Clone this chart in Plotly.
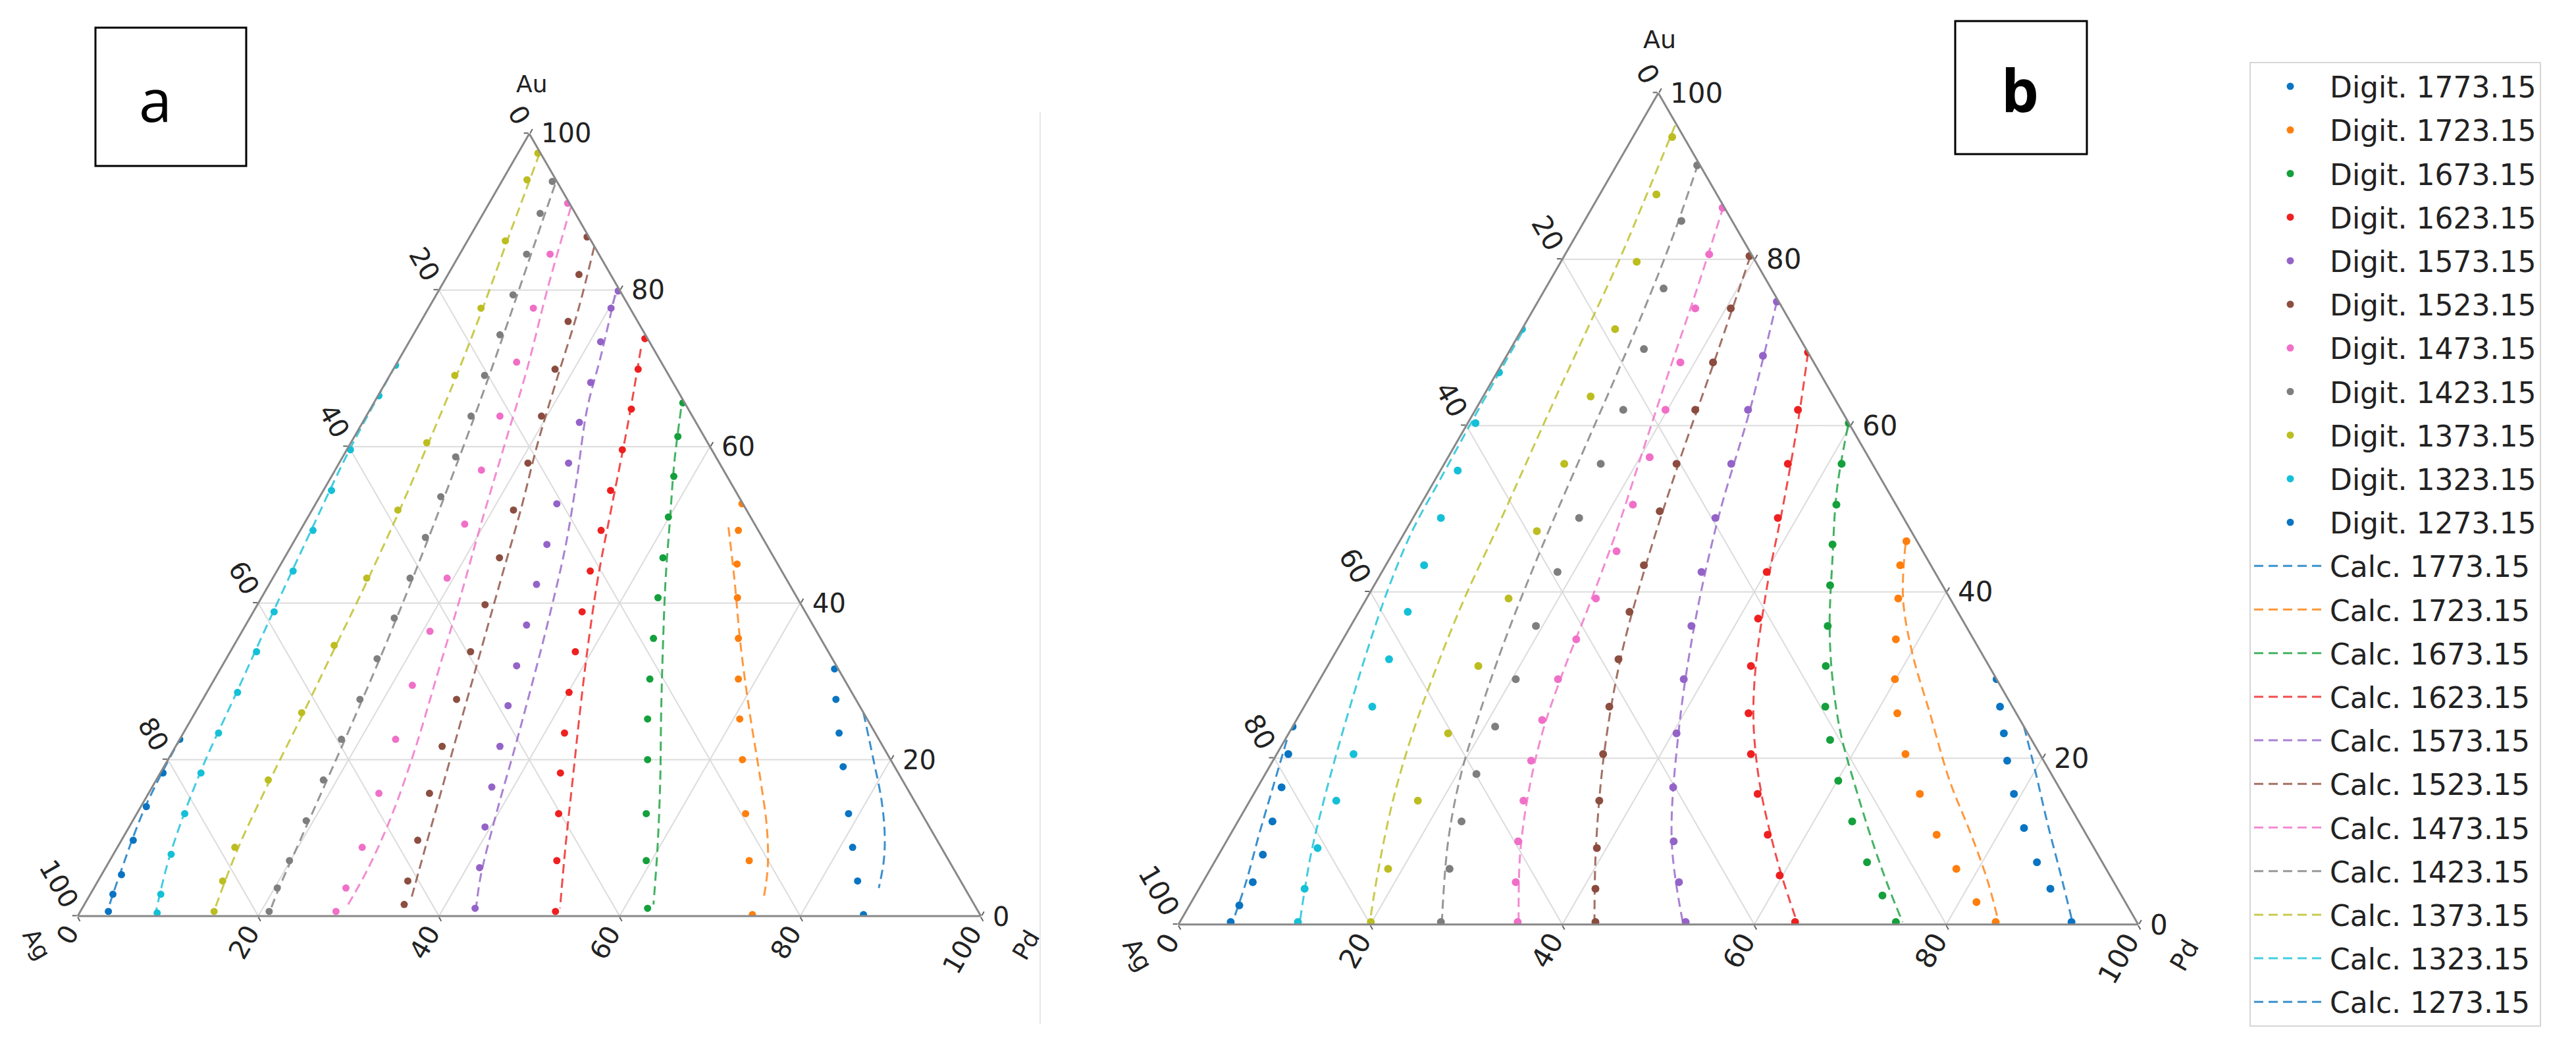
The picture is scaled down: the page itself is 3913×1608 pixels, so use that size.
import plotly.graph_objects as go

W, H = 3913, 1608

TEMPS = ["1773.15", "1723.15", "1673.15", "1623.15", "1573.15", "1523.15",
         "1473.15", "1423.15", "1373.15", "1323.15", "1273.15"]
COLORS = ["#0a75c2", "#ff7f0e", "#14a03c", "#ee2020", "#9463c8", "#8c4e40",
          "#f070c8", "#7f7f7f", "#bcbd22", "#14c0d8", "#0a75c2"]
TICKVALS = [0, 20, 40, 60, 80, 100]

a_dig_au = {
    "1773.15": [31.6, 27.7, 23.4, 19.1, 13.1, 8.8, 4.5, 0.2],
    "1723.15": [52.7, 49.3, 45.0, 40.7, 35.5, 30.3, 25.2, 20.0, 13.1, 7.1, 0.2],
    "1673.15": [65.6, 61.3, 56.2, 51.0, 45.8, 40.7, 35.5, 30.3, 25.2, 20.0, 13.1, 7.1, 1.0],
    "1623.15": [73.8, 69.9, 64.8, 59.6, 54.4, 49.3, 44.1, 38.9, 33.8, 28.6, 23.4, 18.3, 13.1, 7.1, 0.6],
    "1573.15": [79.9, 77.7, 73.4, 68.2, 63.1, 57.9, 52.7, 47.5, 42.4, 37.2, 32.0, 26.9, 21.7, 16.5, 11.4, 6.2, 1.0],
    "1523.15": [86.8, 82.0, 76.0, 69.9, 63.9, 57.9, 51.9, 45.8, 39.8, 33.8, 27.7, 21.7, 15.7, 9.7, 4.5, 1.5],
    "1473.15": [91.1, 84.6, 77.7, 70.8, 63.9, 57.0, 50.1, 43.2, 36.4, 29.5, 22.6, 15.7, 8.8, 3.6, 0.6],
    "1423.15": [93.9, 89.8, 84.6, 79.4, 74.3, 69.1, 63.9, 58.7, 53.6, 48.4, 43.2, 38.1, 32.9, 27.7, 22.6, 17.4, 12.2, 7.1, 3.6, 0.6],
    "1373.15": [97.5, 94.1, 86.3, 77.7, 69.1, 60.5, 51.9, 43.2, 34.6, 26.0, 17.4, 8.8, 4.5, 0.6],
    "1323.15": [70.4, 66.5, 59.6, 54.4, 49.3, 44.1, 38.9, 33.8, 28.6, 23.4, 18.3, 13.1, 7.9, 2.8, 0.4],
    "1273.15": [22.6, 18.3, 14.0, 9.7, 5.3, 2.8, 0.6],
}
a_dig_pd = {
    "1773.15": [68.0, 70.1, 72.6, 75.2, 78.8, 81.4, 84.1, 86.9],
    "1723.15": [47.2, 48.5, 50.5, 52.7, 55.4, 58.0, 60.7, 63.6, 67.4, 70.8, 74.6],
    "1673.15": [34.2, 35.8, 37.9, 39.9, 41.9, 43.9, 46.0, 48.2, 50.5, 53.1, 56.4, 59.4, 62.6],
    "1623.15": [25.9, 27.1, 28.9, 30.5, 31.8, 33.3, 34.7, 36.4, 38.2, 40.1, 42.2, 44.3, 46.7, 49.5, 52.6],
    "1573.15": [19.9, 20.2, 21.2, 22.7, 24.0, 25.4, 26.7, 28.2, 29.6, 31.1, 32.6, 34.2, 35.9, 37.6, 39.4, 41.4, 43.5],
    "1523.15": [13.0, 14.5, 16.3, 17.9, 19.4, 20.9, 22.3, 23.8, 25.2, 26.6, 28.1, 29.5, 31.1, 32.8, 34.3, 35.4],
    "1473.15": [8.7, 10.0, 11.6, 13.2, 14.8, 16.2, 17.8, 19.3, 20.8, 22.3, 23.9, 25.5, 27.1, 27.9, 28.3],
    "1423.15": [5.6, 6.3, 7.4, 8.5, 9.6, 10.5, 11.6, 12.5, 13.4, 14.3, 15.2, 16.0, 16.7, 17.4, 17.9, 18.5, 19.2, 19.9, 20.3, 20.9],
    "1373.15": [2.2, 2.7, 4.2, 5.8, 7.2, 8.4, 9.5, 10.4, 11.1, 11.8, 12.4, 13.0, 13.8, 14.8],
    "1323.15": [0.0, 0.1, 0.4, 0.9, 1.4, 1.8, 2.3, 2.9, 3.4, 3.9, 4.5, 5.3, 6.4, 7.8, 8.6],
    "1273.15": [0.0, 0.3, 0.6, 1.3, 2.2, 2.5, 3.1],
}

# ---- panel a, calculated liquidus ----
a_calc_au = {
    "1773.15": [26.0, 20.0, 14.8, 10.5, 7.1, 3.6],
    "1723.15": [49.7, 43.2, 34.6, 26.0, 17.4, 11.4, 6.2, 2.3],
    "1673.15": [64.8, 57.9, 51.0, 43.2, 34.6, 26.0, 17.4, 8.8, 1.5],
    "1623.15": [72.5, 63.1, 51.9, 43.2, 34.6, 26.0, 17.4, 8.8, 1.0],
    "1573.15": [79.4, 71.7, 64.8, 56.2, 47.5, 38.9, 30.3, 21.7, 13.1, 5.3, 1.0],
    "1523.15": [85.6, 77.4, 68.8, 60.5, 51.9, 43.2, 34.6, 26.0, 17.4, 8.8, 1.9],
    "1473.15": [90.6, 80.3, 69.9, 59.6, 50.1, 40.7, 31.2, 21.7, 13.1, 6.2, 1.5],
    "1423.15": [93.5, 84.6, 74.3, 63.9, 53.6, 43.2, 32.9, 22.6, 12.2, 3.6, 0.5],
    "1373.15": [97.5, 86.3, 77.7, 69.1, 60.5, 51.9, 43.2, 34.6, 26.0, 17.4, 8.8, 0.5],
    "1323.15": [70.4, 59.6, 49.3, 38.9, 28.6, 18.3, 7.9, 0.5],
    "1273.15": [23.0, 14.0, 5.3, 0.5],
}
a_calc_pd = {
    "1773.15": [74.0, 78.1, 81.6, 84.1, 85.7, 86.9],
    "1723.15": [47.2, 51.1, 56.1, 61.4, 66.9, 70.6, 73.3, 74.8],
    "1673.15": [34.4, 37.1, 40.1, 43.5, 47.5, 51.6, 55.8, 59.8, 63.0],
    "1623.15": [26.1, 29.4, 33.1, 36.0, 39.2, 42.6, 46.1, 49.6, 52.9],
    "1573.15": [19.8, 22.1, 24.0, 27.2, 30.3, 32.9, 35.3, 37.6, 39.8, 42.0, 43.6],
    "1523.15": [14.4, 16.7, 18.7, 20.7, 23.1, 25.3, 27.5, 29.7, 31.9, 34.1, 35.9],
    "1473.15": [9.3, 11.9, 14.8, 17.3, 19.6, 22.0, 24.3, 26.6, 28.3, 29.1, 29.2],
    "1423.15": [6.1, 7.9, 10.0, 12.0, 13.8, 15.5, 17.0, 18.3, 19.5, 20.5, 21.0],
    "1373.15": [2.4, 4.4, 6.0, 7.4, 8.6, 9.7, 10.6, 11.3, 12.0, 12.6, 13.4, 14.8],
    "1323.15": [0.0, 0.3, 1.2, 2.2, 3.3, 4.4, 6.3, 8.4],
    "1273.15": [0.0, 0.5, 2.0, 3.0],
}

b_dig_au = {
    "1773.15": [29.5, 26.2, 23.0, 19.7, 15.7, 11.6, 7.5, 4.3, 0.3],
    "1723.15": [46.1, 43.2, 39.2, 34.3, 29.5, 25.4, 20.5, 15.7, 10.8, 6.7, 2.7, 0.3],
    "1673.15": [60.3, 55.4, 50.5, 45.7, 40.8, 35.9, 31.1, 26.2, 22.2, 17.3, 12.4, 7.5, 3.5, 0.3],
    "1623.15": [68.8, 61.9, 55.4, 48.9, 42.4, 36.8, 31.1, 25.4, 20.5, 15.7, 10.8, 5.9, 0.3],
    "1573.15": [74.9, 68.4, 61.9, 55.4, 48.9, 42.4, 35.9, 29.5, 23.0, 16.5, 10.0, 5.1, 0.3],
    "1523.15": [80.4, 74.1, 67.6, 61.9, 55.4, 49.7, 43.2, 37.6, 31.9, 26.2, 20.5, 14.9, 9.2, 4.3, 0.3],
    "1473.15": [86.2, 80.6, 74.1, 67.6, 61.9, 56.2, 50.5, 44.9, 39.2, 34.3, 29.5, 24.6, 19.7, 14.9, 10.0, 5.1, 0.3],
    "1423.15": [91.3, 84.6, 76.5, 69.2, 61.9, 55.4, 48.9, 42.4, 35.9, 29.5, 23.8, 18.1, 12.4, 6.7, 0.3],
    "1373.15": [94.7, 87.8, 79.7, 71.6, 63.5, 55.4, 47.3, 39.2, 31.1, 23.0, 14.9, 6.7, 0.3],
    "1323.15": [71.6, 66.4, 60.3, 54.6, 48.9, 43.2, 37.6, 31.9, 26.2, 20.5, 14.9, 9.2, 4.3, 0.3],
    "1273.15": [23.8, 20.5, 16.5, 12.4, 8.4, 5.1, 2.3, 0.3],
}
b_dig_pd = {
    "1773.15": [70.5, 72.5, 74.5, 76.5, 79.2, 82.3, 85.7, 88.7, 92.9],
    "1723.15": [52.8, 53.6, 55.4, 57.6, 59.9, 62.2, 65.5, 69.4, 73.6, 77.7, 81.8, 85.0],
    "1673.15": [39.7, 41.4, 43.3, 45.3, 47.5, 49.7, 51.9, 54.3, 56.8, 60.1, 64.0, 68.0, 71.6, 74.6],
    "1623.15": [31.2, 33.6, 35.8, 38.0, 40.1, 42.0, 44.1, 46.7, 49.4, 52.5, 56.0, 59.7, 64.1],
    "1573.15": [24.9, 26.7, 28.4, 29.9, 31.5, 33.3, 35.5, 37.9, 40.4, 43.3, 46.6, 49.6, 52.7],
    "1523.15": [19.3, 20.5, 21.9, 22.9, 24.2, 25.3, 26.9, 28.2, 29.9, 31.8, 34.0, 36.4, 39.0, 41.3, 43.3],
    "1473.15": [13.6, 15.0, 16.8, 18.5, 19.8, 21.0, 22.1, 23.2, 23.9, 24.3, 24.8, 25.6, 26.9, 28.5, 30.4, 32.6, 35.2],
    "1423.15": [8.4, 10.1, 12.3, 13.9, 15.4, 16.3, 17.3, 18.3, 19.3, 20.4, 21.1, 22.0, 23.3, 24.9, 27.2],
    "1373.15": [4.1, 5.9, 7.9, 9.7, 11.2, 12.5, 13.7, 14.8, 15.7, 16.6, 17.5, 18.5, 19.9],
    "1323.15": [0.0, 0.2, 0.8, 1.8, 2.9, 4.0, 5.1, 6.0, 7.1, 8.0, 9.0, 9.9, 11.0, 12.3],
    "1273.15": [0.0, 1.2, 2.5, 3.6, 4.6, 5.2, 5.2, 5.3],
}

# ---- panel b, calculated liquidus ----
b_calc_au = {
    "1773.15": [23.8, 18.1, 12.4, 5.9, 0.3],
    "1723.15": [45.7, 39.2, 32.7, 25.4, 17.3, 10.8, 5.1, 0.3],
    "1673.15": [59.9, 52.2, 44.1, 35.9, 29.5, 23.0, 16.5, 10.0, 4.3, 0.3],
    "1623.15": [68.8, 61.9, 55.4, 48.9, 42.4, 36.8, 31.1, 25.4, 20.5, 15.7, 10.8, 5.9, 0.3],
    "1573.15": [74.9, 61.9, 48.9, 35.9, 23.0, 10.0, 0.3],
    "1523.15": [80.4, 67.6, 55.4, 43.2, 31.9, 20.5, 9.2, 0.3],
    "1473.15": [86.4, 76.5, 66.8, 57.0, 47.3, 38.4, 30.3, 23.0, 15.7, 8.4, 0.3],
    "1423.15": [91.5, 83.0, 74.9, 66.8, 58.7, 50.5, 42.4, 34.3, 26.2, 18.1, 10.0, 0.3],
    "1373.15": [96.1, 87.8, 79.7, 71.6, 63.5, 55.4, 47.3, 39.2, 31.1, 23.0, 14.9, 6.7, 0.3],
    "1323.15": [71.2, 61.9, 53.8, 47.3, 40.8, 34.3, 27.8, 21.3, 14.9, 8.4, 0.3],
    "1273.15": [22.2, 16.5, 10.8, 5.1, 0.3],
}
b_calc_pd = {
    "1773.15": [76.2, 80.3, 84.3, 89.0, 93.0],
    "1723.15": [52.9, 55.9, 60.1, 65.6, 71.7, 77.2, 81.8, 85.3],
    "1673.15": [39.8, 42.5, 46.1, 49.9, 53.4, 57.5, 62.3, 67.3, 71.9, 75.3],
    "1623.15": [31.2, 33.8, 36.1, 38.3, 40.4, 42.4, 44.6, 47.2, 49.9, 52.9, 56.3, 59.9, 64.3],
    "1573.15": [24.9, 28.6, 31.8, 35.8, 40.6, 46.4, 52.4],
    "1523.15": [19.4, 22.0, 24.4, 27.1, 30.1, 34.1, 38.9, 43.2],
    "1473.15": [13.6, 15.8, 17.8, 19.9, 22.0, 23.6, 24.9, 26.4, 28.6, 31.4, 35.3],
    "1423.15": [8.4, 10.1, 11.4, 12.5, 13.5, 14.5, 15.6, 16.9, 18.5, 20.4, 23.1, 27.3],
    "1373.15": [3.7, 4.9, 6.0, 6.8, 7.6, 8.5, 9.4, 10.2, 11.4, 12.9, 14.9, 17.5, 19.8],
    "1323.15": [0.2, 0.3, 0.5, 0.7, 1.6, 2.9, 4.4, 6.0, 7.7, 9.6, 12.5],
    "1273.15": [0.2, 1.6, 3.0, 4.5, 5.5],
}

# triangle boxes in page pixels (left, right, top, bottom)
BOX_A = (110, 1482, 194, 1384)
BOX_B = (1782, 3240, 133, 1396)


def ag_of(au, pd):
    # ternary closure: Ag = 100 - Au - Pd
    return [max(0.0, 100 - x - y) for x, y in zip(au, pd)]


fig = go.Figure()

panels = [("ternary", a_dig_au, a_dig_pd, a_calc_au, a_calc_pd, True, 11),
          ("ternary2", b_dig_au, b_dig_pd, b_calc_au, b_calc_pd, False, 12)]

for sub, d_au, d_pd, c_au, c_pd, show, msize in panels:
    for t, col in zip(TEMPS, COLORS):
        fig.add_trace(go.Scatterternary(
            a=d_au[t], b=ag_of(d_au[t], d_pd[t]), c=d_pd[t],
            mode="markers", subplot=sub,
            marker=dict(color=col, size=msize),
            name="Digit. " + t, legendgroup="d" + t, showlegend=show,
        ))
    for t, col in zip(TEMPS, COLORS):
        fig.add_trace(go.Scatterternary(
            a=c_au[t], b=ag_of(c_au[t], c_pd[t]), c=c_pd[t],
            mode="lines", subplot=sub, opacity=0.8,
            line=dict(color=col, width=3, dash="14px,8px", shape="spline"),
            name="Calc. " + t, legendgroup="c" + t, showlegend=show,
        ))


def tern_axes(box):
    x0, x1, top, bot = box
    common = dict(
        tickmode="array", tickvals=TICKVALS, showticklabels=False,
        showgrid=True, gridcolor="#dcdcdc", gridwidth=2,
        showline=True, linecolor="#888888", linewidth=3,
        ticks="outside", ticklen=7, tickcolor="#666666", tickwidth=2,
        min=0, title=dict(text=""),
    )
    return dict(domain=dict(x=[x0 / W, x1 / W], y=[1 - bot / H, 1 - top / H]),
                sum=100, bgcolor="white",
                aaxis=common, baxis=common, caxis=common)


def txt(text, x, y, size, angle=0, xanchor="center"):
    return dict(text=text, xref="paper", yref="paper", x=x / W, y=1 - y / H,
                xanchor=xanchor, yanchor="middle", showarrow=False, textangle=angle,
                font=dict(family="DejaVu Sans", size=size, color="#222222"))


def tick_labels(box, fs):
    # matplotlib-style ternary labels: Ag on the left edge, Pd on the bottom, Au on the right
    x0, x1, top, bot = box
    side, hgt = x1 - x0, bot - top
    out = []
    for v in TICKVALS:
        s = str(v)
        r = 19 + 0.32 * fs * len(s)
        # left edge: Ag = v (Au = 100 - v)
        lx = x0 + side * (100 - v) / 200
        ly = bot - hgt * (100 - v) / 100
        out.append(txt(s, lx - 0.5 * r, ly - 0.866 * r, fs, 60))
        # bottom edge: Pd = v
        bx = x0 + side * v / 100
        out.append(txt(s, bx - 0.5 * r, bot + 0.866 * r, fs, -60))
        # right edge: Au = v
        rx = x0 + side * (100 - v / 2) / 100
        ry = bot - hgt * v / 100
        out.append(txt(s, rx + 16, ry, fs, 0, "left"))
    return out


annotations = [
    dict(text="a", xref="paper", yref="paper", x=228 / W, y=1 - 142 / H,
         xanchor="center", yanchor="middle", showarrow=False,
         font=dict(family="Open Sans", size=90, color="black")),
    dict(text="<b>b</b>", xref="paper", yref="paper", x=3060 / W, y=1 - 127 / H,
         xanchor="center", yanchor="middle", showarrow=False,
         font=dict(family="Open Sans", size=90, color="black")),
    txt("Au", 799, 120, 36),
    txt("Ag", 48, 1425, 36, 60),
    txt("Pd", 1550, 1427, 36, -60),
    txt("Au", 2513, 52, 38),
    txt("Ag", 1720, 1442, 38, 60),
    txt("Pd", 3310, 1443, 38, -60),
]
annotations += tick_labels(BOX_A, 40)
annotations += tick_labels(BOX_B, 42)

fig.update_layout(
    width=W, height=H,
    paper_bgcolor="white", plot_bgcolor="white",
    margin=dict(l=0, r=0, t=0, b=0),
    ternary=tern_axes(BOX_A),
    ternary2=tern_axes(BOX_B),
    legend=dict(
        x=3409 / W, y=1 - 86 / H, xanchor="left", yanchor="top",
        font=dict(family="DejaVu Sans", size=44, color="#222222"),
        bordercolor="#d6d6d6", borderwidth=2, bgcolor="white",
        itemwidth=110, tracegroupgap=6, traceorder="grouped",
    ),
    shapes=[
        dict(type="rect", xref="paper", yref="paper",
             x0=137 / W, x1=366 / W, y0=1 - 244 / H, y1=1 - 34 / H,
             line=dict(color="black", width=3)),
        dict(type="rect", xref="paper", yref="paper",
             x0=2962 / W, x1=3162 / W, y0=1 - 226 / H, y1=1 - 24 / H,
             line=dict(color="black", width=3)),
        dict(type="line", xref="paper", yref="paper",
             x0=1572 / W, x1=1572 / W, y0=1 - 1547 / H, y1=1 - 162 / H,
             line=dict(color="#e8e8e8", width=2)),
    ],
    annotations=annotations,
)

fig.write_html("out.html")
